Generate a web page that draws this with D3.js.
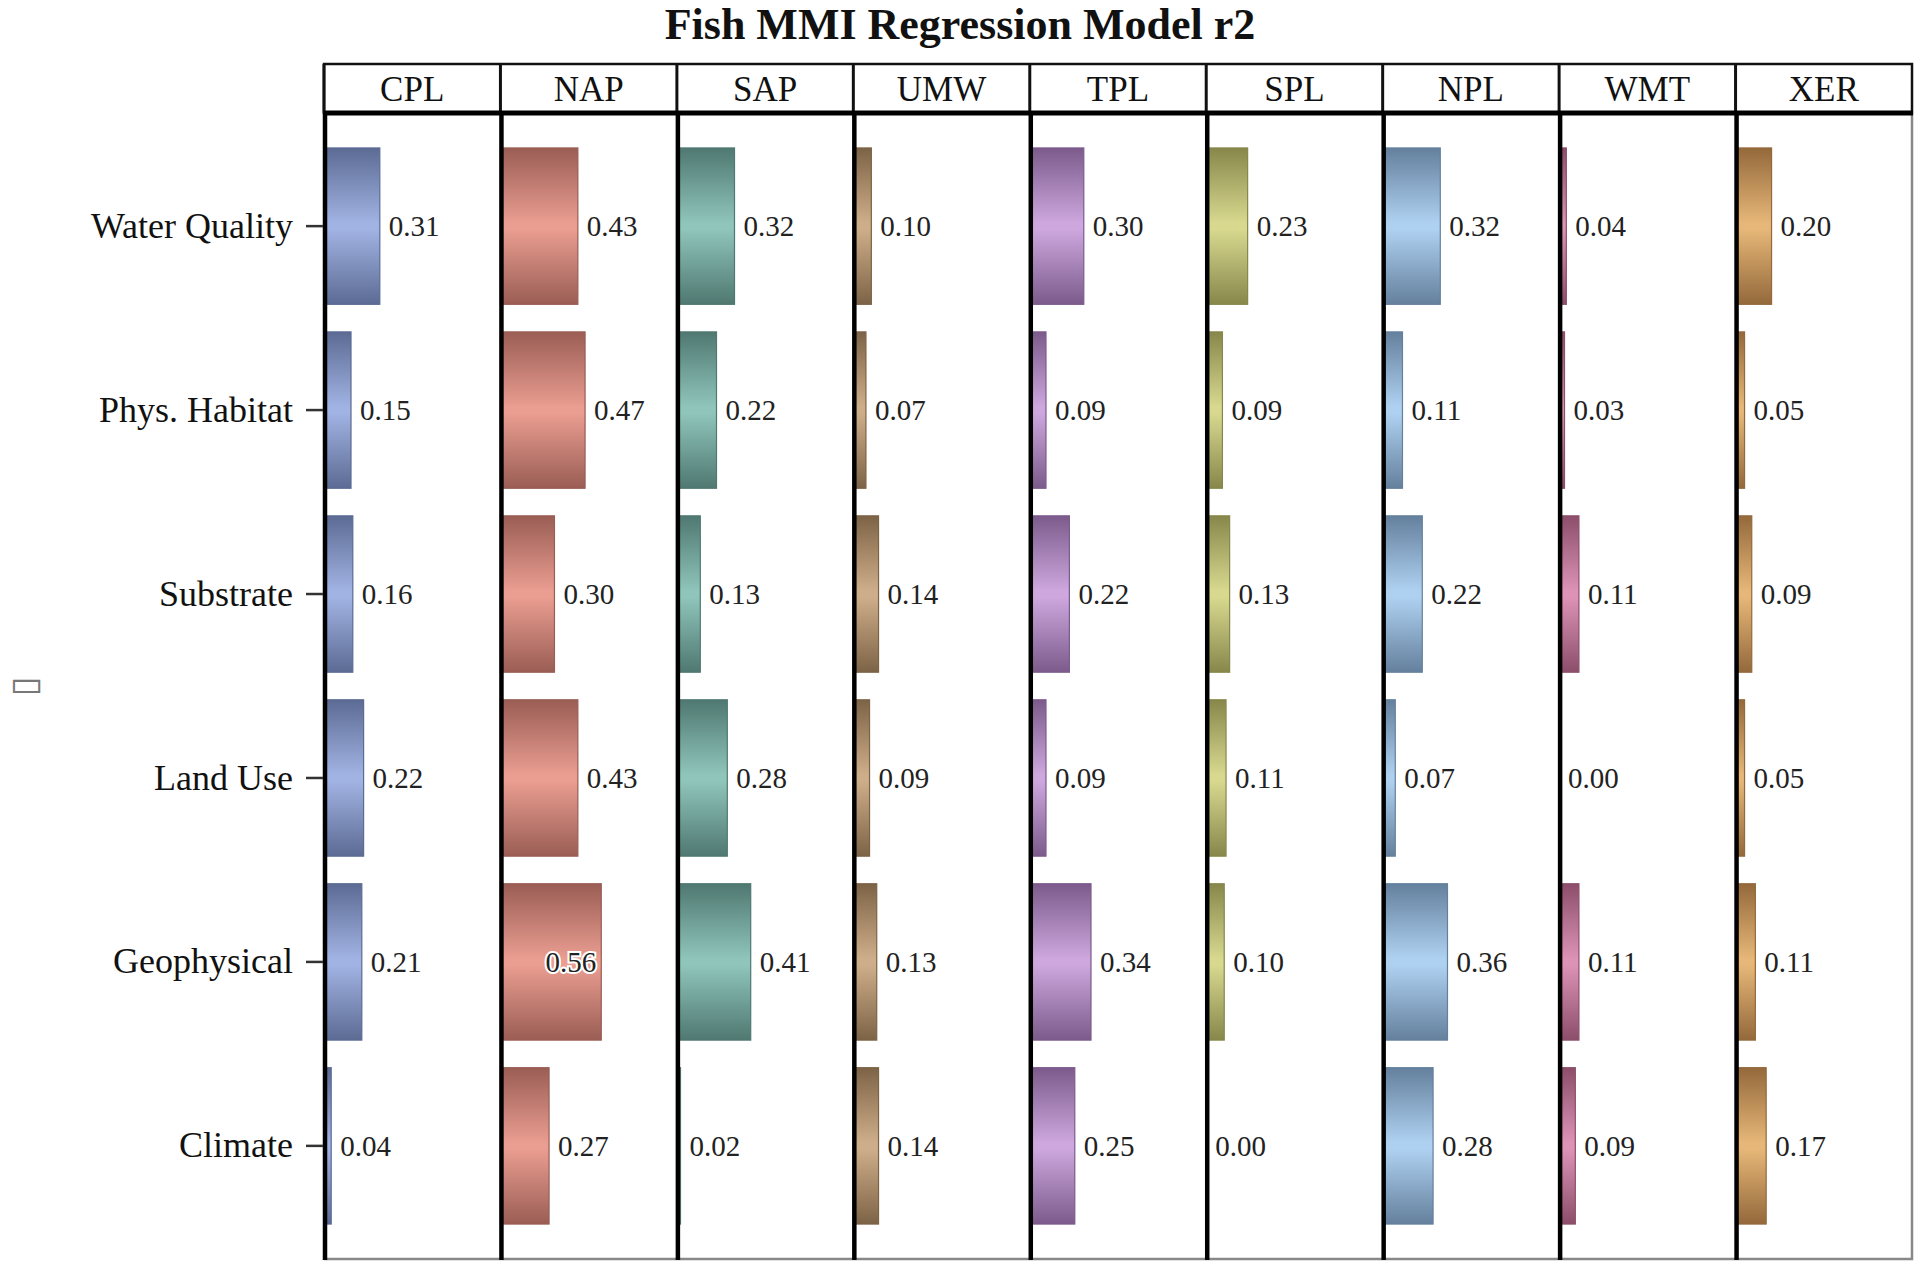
<!DOCTYPE html>
<html>
<head>
<meta charset="utf-8">
<script src="https://cdn.jsdelivr.net/npm/d3@7"></script>
<style>
  html, body { margin: 0; padding: 0; background: #fff; }
  svg { display: block; }
</style>
</head>
<body>
<svg id="chart" width="1920" height="1269"></svg>
<script>
// ---- data ----
const regions = ["CPL", "NAP", "SAP", "UMW", "TPL", "SPL", "NPL", "WMT", "XER"];
const factors = ["Water Quality", "Phys. Habitat", "Substrate", "Land Use", "Geophysical", "Climate"];
const CPL = [0.31, 0.15, 0.16, 0.22, 0.21, 0.04];
const NAP = [0.43, 0.47, 0.30, 0.43, 0.56, 0.27];
const SAP = [0.32, 0.22, 0.13, 0.28, 0.41, 0.02];
const UMW = [0.10, 0.07, 0.14, 0.09, 0.13, 0.14];
const TPL = [0.30, 0.09, 0.22, 0.09, 0.34, 0.25];
const SPL = [0.23, 0.09, 0.13, 0.11, 0.10, 0.00];
const NPL = [0.32, 0.11, 0.22, 0.07, 0.36, 0.28];
const WMT = [0.04, 0.03, 0.11, 0.00, 0.11, 0.09];
const XER = [0.20, 0.05, 0.09, 0.05, 0.11, 0.17];
const seriesValues = [CPL, NAP, SAP, UMW, TPL, SPL, NPL, WMT, XER];
const titleText = "Fish MMI Regression Model r2";
const yAxisLabel = "\u25AF";

// ---- styles ----
const lightColors = ["#A1B3E3", "#EA9D91", "#8FC5BB", "#CEAE8A", "#CDA7DE", "#D8D98F", "#AFD1F1", "#DC93B6", "#E6B778"];
const darkColors  = ["#5C6B94", "#9A5D54", "#4F7871", "#7D6346", "#7C5B8C", "#87874B", "#64809D", "#8C4E6A", "#94693B"];

const svg = d3.select("#chart");
const plotLeft = 324, plotRight = 1912, headerTop = 64, headerBottom = 113, plotBottom = 1259;
const serif = "'Liberation Serif', 'Times New Roman', serif";

const px = d3.scaleBand().domain(regions).range([plotLeft, plotRight]).padding(0);
const py = d3.scaleBand().domain(factors).range([headerBottom, plotBottom]).paddingInner(0.15).paddingOuter(0.19);
const x = d3.scaleLinear().domain([0, 0.98]).range([0, px.bandwidth()]);

// gradients
const defs = svg.append("defs");
regions.forEach((r, i) => {
  const g = defs.append("linearGradient").attr("id", "grad" + i)
    .attr("x1", 0).attr("y1", 0).attr("x2", 0).attr("y2", 1);
  g.append("stop").attr("offset", "0%").attr("stop-color", darkColors[i]);
  g.append("stop").attr("offset", "48%").attr("stop-color", lightColors[i]);
  g.append("stop").attr("offset", "52%").attr("stop-color", lightColors[i]);
  g.append("stop").attr("offset", "100%").attr("stop-color", darkColors[i]);
});

// title
svg.append("text").attr("x", 960).attr("y", 39)
  .attr("text-anchor", "middle").attr("font-family", serif)
  .attr("font-weight", "bold").attr("font-size", 44).attr("fill", "#111")
  .text(titleText);

// y axis label (rotated)
svg.append("text").attr("transform", `translate(23,${(headerBottom + plotBottom) / 2}) rotate(-90)`)
  .attr("text-anchor", "middle").attr("dominant-baseline", "central")
  .attr("font-family", "'DejaVu Sans'").attr("font-size", 36).attr("fill", "#777")
  .text(yAxisLabel);

// panels
regions.forEach((r, i) => {
  const g = svg.append("g").attr("transform", `translate(${px(r)},0)`);
  const vals = seriesValues[i];
  const rows = factors.map((f, j) => ({ f, v: vals[j] }));

  g.selectAll("rect.bar").data(rows).join("rect")
    .attr("class", "bar")
    .attr("x", 0)
    .attr("y", d => py(d.f))
    .attr("width", d => Math.max(0, x(d.v)))
    .attr("height", py.bandwidth())
    .attr("fill", `url(#grad${i})`)
    .attr("stroke", darkColors[i]).attr("stroke-width", 1.2);

  g.selectAll("text.val").data(rows).join("text")
    .attr("class", "val")
    .attr("font-family", serif).attr("font-size", 29).attr("fill", "#222")
    .attr("dominant-baseline", "central")
    .attr("y", d => py(d.f) + py.bandwidth() / 2)
    .each(function (d) {
      const inside = x(d.v) + 80 > px.bandwidth();
      d3.select(this)
        .attr("x", inside ? x(d.v) - 5 : x(d.v) + 9)
        .attr("text-anchor", inside ? "end" : "start")
        .attr("stroke", inside ? "#fff" : "none")
        .attr("stroke-width", inside ? 4 : 0)
        .attr("paint-order", "stroke")
        .text(d3.format(".2f")(d.v));
    });

  // header label
  g.append("text").attr("x", px.bandwidth() / 2).attr("y", (headerTop + headerBottom) / 2 + 1)
    .attr("text-anchor", "middle").attr("dominant-baseline", "central")
    .attr("font-family", serif).attr("font-size", 35).attr("fill", "#111")
    .text(r);
});

// header box
svg.append("rect").attr("x", plotLeft).attr("y", headerTop)
  .attr("width", plotRight - plotLeft).attr("height", headerBottom - headerTop)
  .attr("fill", "none").attr("stroke", "#111").attr("stroke-width", 2.5);
regions.forEach(r => {
  svg.append("line").attr("x1", px(r)).attr("x2", px(r))
    .attr("y1", headerTop).attr("y2", headerBottom)
    .attr("stroke", "#111").attr("stroke-width", 3);
});
// right and bottom plot border
svg.append("path")
  .attr("d", `M${plotRight},${headerBottom}V${plotBottom}H${plotLeft}`)
  .attr("fill", "none").attr("stroke", "#888").attr("stroke-width", 2.5);
// panel axis lines
regions.forEach(r => {
  svg.append("line").attr("x1", px(r) + 1).attr("x2", px(r) + 1)
    .attr("y1", headerBottom).attr("y2", plotBottom + 1)
    .attr("stroke", "#000").attr("stroke-width", 4.5);
});
// header bottom thick
svg.append("line").attr("x1", plotLeft).attr("x2", plotRight + 1)
  .attr("y1", headerBottom).attr("y2", headerBottom)
  .attr("stroke", "#000").attr("stroke-width", 5);

// y axis with ticks and labels
const yAxis = d3.axisLeft(py).tickSize(17).tickPadding(13);
const ya = svg.append("g").attr("transform", `translate(${plotLeft - 1},0)`).call(yAxis);
ya.select(".domain").remove();
ya.selectAll(".tick line").attr("stroke", "#333").attr("stroke-width", 2.5);
ya.selectAll(".tick text").attr("font-family", serif).attr("font-size", 36).attr("fill", "#111");
</script>
</body>
</html>
